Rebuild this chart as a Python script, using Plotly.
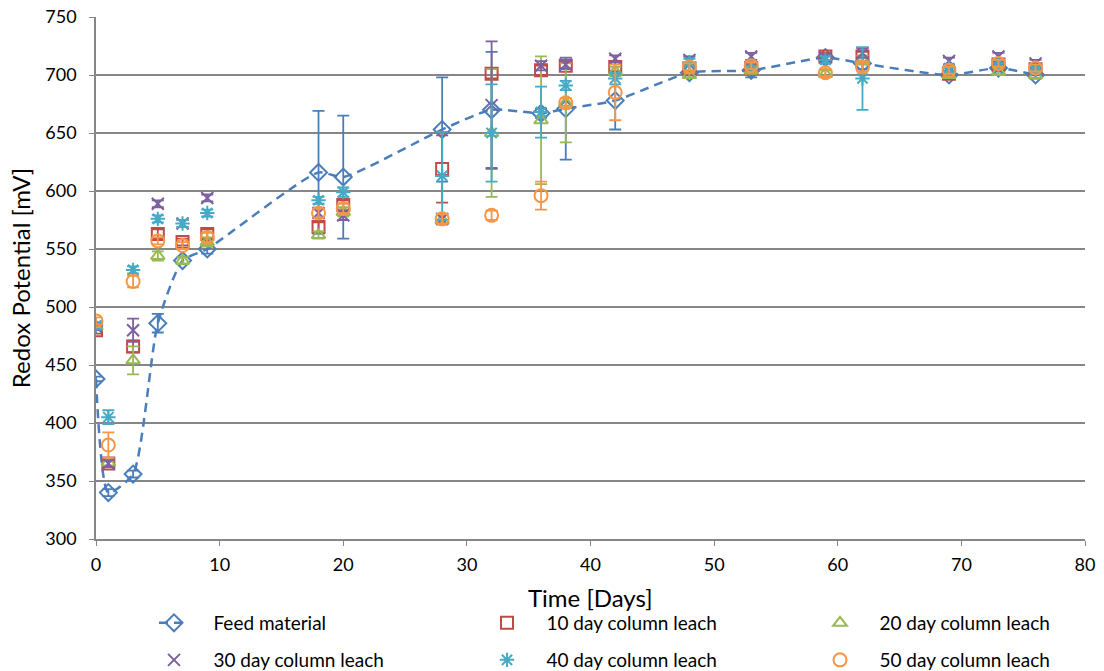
import plotly.graph_objects as go

days = [0, 1, 3, 5, 7, 9, 18, 20, 28, 32, 36, 38, 42, 48, 53, 59, 62, 69, 73, 76]

feed = [438, 340, 356, 486, 540, 550, 616, 612, 653, 670, 667, 671, 678, 702, 704, 715, 710, 700, 706, 700]
feed_err = [2, 3, 3, 8, 3, 4, 53, 53, 45, 50, 4, 44, 25, 2, 6, 2, 5, 2, 3, 3]

d10 = [480, 365, 466, 563, 556, 563, 569, 588, 619, 701, 704, 708, 707, 705, 706, 716, 716, 701, 709, 705]
d10_err = [3, 3, 5, 4, 3, 4, 4, 4, 29, 4, 4, 3, 4, 3, 3, 3, 4, 2, 3, 3]

d20 = [483, 366, 454, 544, 540, 556, 562, 582, 575, 650, 661, 676, 703, 700, 704, 701, 713, 700, 703, 700]
d20_err = [3, 3, 12, 4, 3, 4, 3, 4, 4, 55, 55, 34, 4, 2, 3, 3, 4, 2, 3, 3]

d30 = [483, 365, 480, 589, 572, 594, 581, 579, 576, 674, 708, 709, 714, 713, 716, 715, 719, 712, 716, 710]
d30_err = [3, 3, 10, 3, 3, 3, 4, 4, 4, 55, 4, 3, 3, 3, 3, 3, 4, 3, 3, 3]

d40 = [484, 405, 532, 576, 572, 581, 592, 599, 613, 650, 668, 691, 697, 711, 708, 713, 697, 706, 710, 704]
d40_err = [3, 6, 3, 3, 3, 3, 3, 4, 38, 42, 22, 4, 5, 3, 3, 3, 27, 3, 3, 3]

d50 = [488, 381, 522, 557, 553, 560, 581, 585, 576, 579, 596, 676, 685, 707, 708, 702, 707, 704, 710, 706]
d50_err = [3, 11, 5, 3, 3, 4, 4, 4, 4, 4, 12, 4, 24, 3, 3, 3, 4, 3, 3, 3]

x_ticks = [0, 10, 20, 30, 40, 50, 60, 70, 80]
y_ticks = [300, 350, 400, 450, 500, 550, 600, 650, 700, 750]

PAD = "\u00a0" * 4

series = [
    ("10 day column leach", d10, d10_err, "#BE4B48", "square-open", 12),
    ("20 day column leach", d20, d20_err, "#98B954", "triangle-up-open", 12),
    ("30 day column leach", d30, d30_err, "#7D60A0", "x-thin-open", 12),
    ("40 day column leach", d40, d40_err, "#46AAC5", "asterisk-open", 12),
    ("50 day column leach", d50, d50_err, "#F79646", "circle-open", 13),
]

FONT = "Lato, 'Open Sans', sans-serif"

# one single-entry legend per series, laid out as a 3 x 2 grid (container pixels)
legend_ids = ["legend", "legend2", "legend3", "legend4", "legend5", "legend6"]
legend_pos = [(154, 623), (487, 623), (820, 623), (154, 660), (487, 660), (820, 660)]

fig = go.Figure()

fig.add_trace(go.Scatter(
    x=days, y=feed, name=PAD + "Feed material", mode="lines+markers",
    line=dict(color="#4A7EBB", width=2.5, dash="9px,6px", shape="spline", smoothing=0.6),
    marker=dict(symbol="diamond-open", size=13, color="#4A7EBB", line=dict(width=2, color="#4A7EBB")),
    error_y=dict(type="data", array=feed_err, visible=True, color="#4A7EBB", thickness=1.8, width=6),
    legend=legend_ids[0], showlegend=True,
))

for i, (name, vals, err, col, sym, sz) in enumerate(series):
    fig.add_trace(go.Scatter(
        x=days, y=vals, name=PAD + name, mode="markers",
        marker=dict(symbol=sym, size=sz, color=col, line=dict(width=2, color=col)),
        error_y=dict(type="data", array=err, visible=True, color=col, thickness=1.8, width=6),
        legend=legend_ids[i + 1], showlegend=True,
    ))

legends = {}
for lid, (px, py) in zip(legend_ids, legend_pos):
    legends[lid] = dict(
        orientation="h", xref="container", yref="container", xanchor="left", yanchor="middle",
        x=px / 1104, y=1 - py / 671, font=dict(size=19), bgcolor="rgba(0,0,0,0)",
    )

PLOT_TOP, PLOT_BOTTOM = 17, 539

fig.update_layout(
    width=1104, height=671, showlegend=True,
    paper_bgcolor="white", plot_bgcolor="white",
    margin=dict(l=96, r=19, t=PLOT_TOP, b=671 - PLOT_BOTTOM, autoexpand=False),
    font=dict(family=FONT, size=16, color="#000000"),
    xaxis=dict(
        range=[0, 80], tickvals=x_ticks, ticks="outside", ticklen=5, tickcolor="#868686",
        showline=True, linecolor="#868686", linewidth=1.5, showgrid=False, zeroline=False,
        tickfont=dict(size=18), ticklabelstandoff=4,
    ),
    yaxis=dict(
        range=[300, 750], tickvals=y_ticks, ticks="outside", ticklen=5, tickcolor="#868686",
        showline=True, linecolor="#868686", linewidth=1.5, showgrid=True,
        gridcolor="#868686", gridwidth=1.5, zeroline=False,
        title=dict(text="Redox Potential [mV]", font=dict(size=24), standoff=8),
        tickfont=dict(size=18), ticklabelstandoff=9,
    ),
    annotations=[dict(
        text="Time [Days]", xref="paper", x=0.5, xanchor="center",
        yref="paper", y=-(597 - PLOT_BOTTOM) / (PLOT_BOTTOM - PLOT_TOP), yanchor="middle",
        showarrow=False, font=dict(size=24),
    )],
    **legends,
)

fig.write_html(
    "out.html",
    config={"displayModeBar": False},
    post_script="document.body.style.margin='0';document.body.style.overflow='hidden';",
)
